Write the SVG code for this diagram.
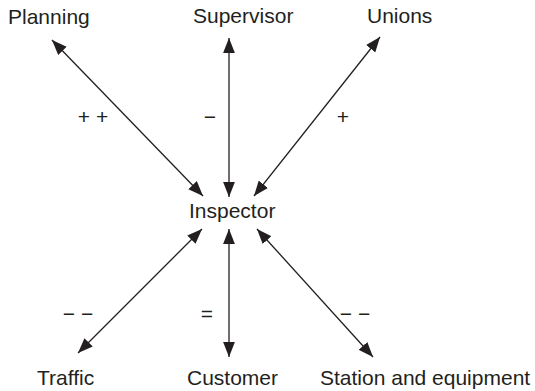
<svg xmlns="http://www.w3.org/2000/svg" width="535" height="391" viewBox="0 0 535 391">
<style>
text{font-family:"Liberation Sans",Arial,sans-serif;font-size:21px;fill:#231f20}
.lbl{text-anchor:middle}
.c line{stroke:#231f20;stroke-width:1.3;marker-start:url(#ah);marker-end:url(#ah)}
</style>
<defs>
<marker id="ah" markerUnits="userSpaceOnUse" markerWidth="15" markerHeight="12" refX="14" refY="5.5" orient="auto-start-reverse" viewBox="0 0 14 11">
<path d="M0,0 L14,5.5 L0,11 z" fill="#231f20"/>
</marker>
</defs>
<rect width="535" height="391" fill="#fff"/>
<g id="connectors" class="c">
<line x1="203" y1="196" x2="52" y2="40"/>
<line x1="229" y1="197" x2="229" y2="38"/>
<line x1="254" y1="196" x2="380" y2="37"/>
<line x1="202" y1="229" x2="78" y2="353"/>
<line x1="229" y1="229" x2="229" y2="357"/>
<line x1="257" y1="229" x2="373" y2="357"/>
</g>
<g id="edge-labels">
<text class="lbl" x="93" y="124">+ +</text>
<text class="lbl" x="210" y="124">−</text>
<text class="lbl" x="343" y="124">+</text>
<text class="lbl" x="78" y="321">− −</text>
<text class="lbl" x="207" y="321">=</text>
<text class="lbl" x="355" y="321">− −</text>
</g>
<g id="planning"><text x="8" y="24">Planning</text></g>
<g id="supervisor"><text x="193" y="23">Supervisor</text></g>
<g id="unions"><text x="367" y="23">Unions</text></g>
<g id="inspector"><text x="189" y="218">Inspector</text></g>
<g id="traffic"><text x="37" y="385">Traffic</text></g>
<g id="customer"><text x="187" y="385">Customer</text></g>
<g id="station"><text x="320" y="385">Station and equipment</text></g>
</svg>
